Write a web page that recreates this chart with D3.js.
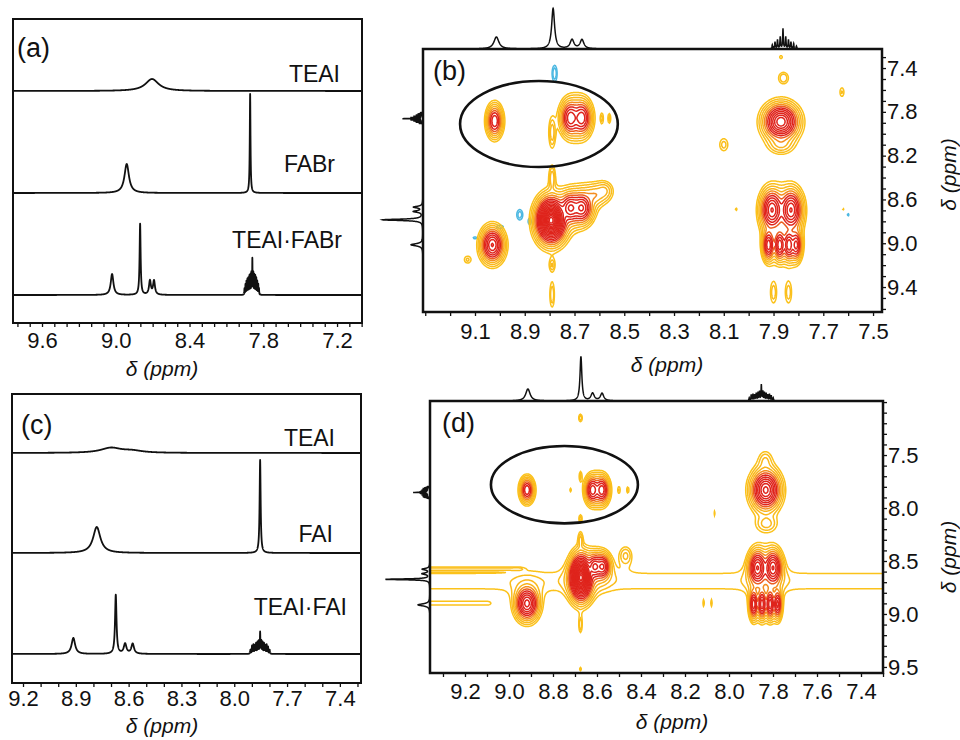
<!DOCTYPE html>
<html>
<head>
<meta charset="utf-8">
<script src="https://cdn.jsdelivr.net/npm/d3@7"></script>
<style>
  body { margin: 0; background: #fff; }
  svg { display: block; }
</style>
</head>
<body>
<svg id="fig" width="960" height="740"></svg>
<script>
const FONT = '"Liberation Sans", Arial, Helvetica, sans-serif';
const INK = '#111';

// 1D peaks: [ppm, intensity (a.u.), half width (ppm)]
const teaiA = [[8.705, 12, 0.065]];
const fabrA = [[8.911, 29, 0.022], [7.907, 99, 0.0035]];
const mixA = [[9.03, 21, 0.013], [8.802, 71, 0.005], [8.722, 14, 0.009], [8.689, 14, 0.009]];
// multiplet lines: [ppm, intensity]
const multA = [[7.953, 6], [7.945, 10], [7.937, 13], [7.929, 15], [7.921, 16], [7.913, 18], [7.905, 19], [7.897, 21],
  [7.889, 35], [7.881, 21], [7.873, 19], [7.865, 18], [7.857, 16], [7.849, 13], [7.841, 10], [7.835, 6]];
const ticksA = [9.6, 9.0, 8.4, 7.8, 7.2];

const teaiC = [[8.70, 5, 0.07], [8.58, 2, 0.07]];
const faiC = [[8.781, 26, 0.025], [7.853, 93, 0.0035]];
const mixC = [[8.914, 16, 0.012], [8.673, 59, 0.005], [8.62, 10, 0.009], [8.577, 10, 0.009]];
const multC = [[7.908, 4], [7.899, 8], [7.891, 9], [7.883, 8], [7.876, 10], [7.868, 11], [7.861, 12], [7.853, 21],
  [7.846, 12], [7.839, 11], [7.831, 10], [7.824, 8], [7.816, 9], [7.808, 7], [7.799, 4]];
const ticksC = [9.2, 8.9, 8.6, 8.3, 8.0, 7.7, 7.4];

// projection of the TEAI·FABr COSY
const projB = [[9.014, 21, 0.012], [8.786, 71, 0.007], [8.71, 16, 0.009], [8.67, 16, 0.009]];
const multB = [[7.905, 7], [7.894, 12], [7.884, 16], [7.873, 21], [7.862, 35], [7.851, 21], [7.840, 16],
  [7.830, 12], [7.819, 9], [7.808, 5]];

// 2D peaks: [F2 ppm, F1 ppm, amplitude, outer half-width F2, outer half-width F1] (ppm)
const crossB = [
  [9.021, 7.884, 25, 0.041, 0.19],
  [8.716, 7.856, 35, 0.053, 0.213],
  [8.671, 7.856, 35, 0.053, 0.213],
  [8.590, 7.860, 1.8, 0.0054, 0.043],
  [8.560, 7.860, 1.8, 0.0054, 0.043],
  [8.790, 7.990, 3, 0.013, 0.133],
  [8.790, 8.400, 3, 0.012, 0.104],
  [8.790, 9.200, 2.2, 0.010, 0.050],
  [8.790, 9.470, 2.2, 0.009, 0.113],
  [8.794, 8.790, 3000, 0.088, 0.30],
  [8.716, 8.678, 40, 0.060, 0.19],
  [8.671, 8.678, 40, 0.060, 0.19],
  [8.620, 8.560, 4, 0.05, 0.10],
  [8.580, 8.520, 3, 0.03, 0.074],
  [9.030, 9.016, 60, 0.063, 0.215],
  [9.130, 9.150, 1.6, 0.012, 0.029],
  [7.870, 7.890, 120, 0.096, 0.226],
  [7.860, 7.490, 2.2, 0.019, 0.05],
  [7.870, 7.300, 1.5, 0.0054, 0.0135],
  [7.870, 8.100, 3, 0.044, 0.074],
  [7.906, 8.696, 60, 0.063, 0.257],
  [7.830, 8.696, 60, 0.063, 0.257],
  [7.920, 9.016, 35, 0.032, 0.187],
  [7.875, 9.016, 35, 0.032, 0.187],
  [7.838, 9.016, 35, 0.032, 0.187],
  [7.809, 9.016, 30, 0.031, 0.183],
  [7.900, 9.450, 2, 0.012, 0.094],
  [7.840, 9.450, 2, 0.012, 0.094],
  [8.100, 8.100, 1.8, 0.016, 0.054],
  [7.625, 7.620, 1.6, 0.0078, 0.039],
  [8.050, 8.690, 1.3, 0.003, 0.011],
  [7.620, 8.690, 1.2, 0.0024, 0.0072]
];
const negB = [
  [8.780, 7.450, 2.2, 0.010, 0.075],
  [8.920, 8.740, 2.0, 0.012, 0.047],
  [8.880, 8.800, 1.6, 0.006, 0.029],
  [9.000, 8.850, 1.5, 0.0135, 0.0135],
  [9.100, 8.950, 1.3, 0.007, 0.009],
  [7.600, 8.740, 1.3, 0.003, 0.011]
];

const crossD = [
  [8.918, 7.830, 25, 0.041, 0.152],
  [8.620, 7.830, 35, 0.045, 0.173],
  [8.578, 7.830, 35, 0.045, 0.173],
  [8.500, 7.830, 1.6, 0.0049, 0.029],
  [8.460, 7.830, 1.6, 0.0049, 0.029],
  [8.720, 7.830, 1.4, 0.0033, 0.016],
  [8.675, 7.150, 2, 0.008, 0.035],
  [8.675, 7.700, 1.6, 0.005, 0.039],
  [8.675, 8.100, 1.8, 0.0065, 0.033],
  [8.675, 8.300, 2.5, 0.0095, 0.068],
  [8.675, 9.100, 2, 0.007, 0.071],
  [8.675, 9.520, 1.4, 0.004, 0.016],
  [8.673, 8.657, 3000, 0.076, 0.312],
  [8.610, 8.553, 40, 0.049, 0.163],
  [8.575, 8.553, 40, 0.049, 0.163],
  [8.470, 8.450, 2.5, 0.027, 0.081],
  [8.918, 8.900, 70, 0.073, 0.219],
  [7.833, 7.830, 100, 0.091, 0.258],
  [7.835, 7.550, 2.0, 0.024, 0.071],
  [7.830, 8.150, 2.5, 0.041, 0.068],
  [7.870, 8.565, 60, 0.057, 0.229],
  [7.800, 8.565, 60, 0.057, 0.229],
  [7.888, 8.908, 35, 0.027, 0.187],
  [7.850, 8.908, 35, 0.027, 0.187],
  [7.813, 8.908, 35, 0.027, 0.187],
  [7.779, 8.908, 30, 0.026, 0.183],
  [8.115, 8.900, 1.4, 0.0025, 0.025],
  [8.080, 8.900, 1.4, 0.0025, 0.025],
  [8.065, 8.050, 1.3, 0.0022, 0.022]
];
// t1 noise ridges: [F2 from, F2 to, F1, amplitude, sigma F1]
const ridgesD = [
  [9.40, 7.25, 8.690, 1.3, 0.10],
  [9.40, 8.96, 8.575, 1.25, 0.012],
  [9.40, 9.10, 8.900, 1.25, 0.02]
];

const ellipseB = {cx: 8.843, cy: 7.911, rx: 0.317, ry: 0.393};
const ellipseD = {cx: 8.748, cy: 7.78, rx: 0.334, ry: 0.365};

const STEP_PPM = 0.0005;
const LINE_W = 0.0016;
const SHAPE_P = 3;
const N_LEVELS = 20, BASE = 1, RATIO = 1.5;
const levelColor = d3.scaleLinear()
  .domain([0, 3, 4.5, 6])
  .range(['#fbc21b', '#f9b31d', '#f27b22', '#df241c'])
  .clamp(true);

const svg = d3.select('#fig');

function withLines(peaks, lines) {
  return peaks.concat(lines.map(([p, h]) => [p, h, LINE_W]));
}

function sample(peaks, dom) {
  const lo = d3.min(dom), hi = d3.max(dom);
  const n = Math.round((hi - lo) / STEP_PPM);
  return d3.range(n + 1).map(k => {
    const p = lo + k * STEP_PPM;
    let v = 0;
    for (const [c, h, w] of peaks) { const d = (p - c) / w; v += h / (1 + d * d); }
    return [p, v];
  });
}

function tickRange(dom) {
  const lo = d3.min(dom), hi = d3.max(dom);
  return d3.range(Math.ceil(lo * 10), Math.floor(hi * 10) + 1).map(v => v / 10);
}

function styleAxis(a, size) {
  a.select('.domain').remove();
  a.selectAll('line').attr('stroke', INK).attr('stroke-width', 1.3);
  a.selectAll('text').attr('font-family', FONT).attr('font-size', size).attr('fill', INK);
}

function isMajor(majors) {
  return d => majors.some(m => Math.abs(m - d) < 1e-6) ? d.toFixed(1) : '';
}

function axisTitle(g, x, y, rotate) {
  const t = g.append('text')
    .attr('font-family', FONT).attr('font-size', 21).attr('font-style', 'italic')
    .attr('fill', INK).attr('text-anchor', 'middle')
    .text('δ (ppm)');
  if (rotate) t.attr('transform', `translate(${x},${y}) rotate(-90)`).attr('dominant-baseline', 'central');
  else t.attr('x', x).attr('y', y);
}

function drawStack(cfg) {
  const {box} = cfg;
  const g = svg.append('g');
  const x = d3.scaleLinear().domain(cfg.domain).range([box.x0, box.x1]);
  const h = d3.scaleLinear().domain([0, 100]).range([0, 100]);

  cfg.traces.forEach(t => {
    const pts = sample(t.peaks, cfg.domain);
    g.append('path')
      .attr('d', d3.line().x(d => x(d[0])).y(d => t.base - h(d[1]))(pts))
      .attr('fill', 'none').attr('stroke', INK).attr('stroke-width', 1.8)
      .attr('stroke-linejoin', 'round');
    g.append('text')
      .attr('x', t.lx).attr('y', t.ly)
      .attr('text-anchor', 'end')
      .attr('font-family', FONT).attr('font-size', 23).attr('fill', INK)
      .text(t.label);
  });

  g.append('rect')
    .attr('x', box.x0).attr('y', box.y0)
    .attr('width', box.x1 - box.x0).attr('height', box.y1 - box.y0)
    .attr('fill', 'none').attr('stroke', INK).attr('stroke-width', 2);

  g.append('g')
    .attr('transform', `translate(0,${box.y1})`)
    .call(d3.axisBottom(x).tickValues(tickRange(cfg.domain)).tickSize(4).tickPadding(cfg.pad)
      .tickFormat(isMajor(cfg.majors)))
    .call(a => styleAxis(a, 22));

  g.append('text')
    .attr('x', cfg.tagX).attr('y', cfg.tagY)
    .attr('font-family', FONT).attr('font-size', 27).attr('fill', INK)
    .text(cfg.tag);

  axisTitle(g, cfg.titleX, cfg.titleY, false);
}

function draw2D(cfg) {
  const {box} = cfg;
  const g = svg.append('g');
  const x = d3.scaleLinear().domain(cfg.xDom).range([box.x0, box.x1]);
  const y = d3.scaleLinear().domain(cfg.yDom).range([box.y0, box.y1]);
  const kx = Math.abs(x(1) - x(0)), ky = Math.abs(y(1) - y(0));

  const pad = 4;
  const gx0 = Math.floor(box.x0) - pad, gy0 = Math.floor(box.y0) - pad;
  const nx = Math.ceil(box.x1 - box.x0) + 2 * pad, ny = Math.ceil(box.y1 - box.y0) + 2 * pad;
  const pos = new Float64Array(nx * ny), neg = new Float64Array(nx * ny);

  // peak shape a / (1 + r^2)^p, scaled so the lowest level sits at the outer half-widths
  function addPeak(arr, [cx, cy, a, rx, ry]) {
    const f = Math.sqrt(Math.max(Math.pow(a / BASE, 1 / SHAPE_P) - 1, 1e-3));
    const px = x(cx) - gx0, py = y(cy) - gy0;
    const psx = rx * kx / f, psy = ry * ky / f;
    const wx = rx * kx * 3 + 2, wy = ry * ky * 3 + 2;
    const i0 = Math.max(0, Math.floor(px - wx)), i1 = Math.min(nx - 1, Math.ceil(px + wx));
    const j0 = Math.max(0, Math.floor(py - wy)), j1 = Math.min(ny - 1, Math.ceil(py + wy));
    for (let j = j0; j <= j1; j++) {
      const dy = (j + 0.5 - py) / psy;
      for (let i = i0; i <= i1; i++) {
        const dx = (i + 0.5 - px) / psx;
        arr[j * nx + i] += a * Math.pow(1 + dx * dx + dy * dy, -SHAPE_P);
      }
    }
  }

  function addRidge(arr, [xa, xb, cy, a, sy]) {
    const pa = x(xa) - gx0, pb = x(xb) - gx0;
    const lo = Math.min(pa, pb), hi = Math.max(pa, pb);
    const py = y(cy) - gy0, psy = sy * ky, edge = 0.02 * kx;
    const j0 = Math.max(0, Math.floor(py - 5 * psy)), j1 = Math.min(ny - 1, Math.ceil(py + 5 * psy));
    for (let j = j0; j <= j1; j++) {
      const dy = (j + 0.5 - py) / psy;
      for (let i = 0; i < nx; i++) {
        const c = i + 0.5;
        const dx = c < lo ? (lo - c) / edge : c > hi ? (c - hi) / edge : 0;
        arr[j * nx + i] += a * Math.exp(-0.5 * (dx * dx + dy * dy));
      }
    }
  }

  cfg.cross.forEach(p => addPeak(pos, p));
  (cfg.ridges || []).forEach(r => addRidge(pos, r));
  cfg.neg.forEach(p => addPeak(neg, p));

  const levels = d3.range(N_LEVELS).map(k => BASE * Math.pow(RATIO, k));
  const toPx = d3.geoTransform({
    point(px, py) { this.stream.point(gx0 + px, gy0 + py); }
  });
  const path = d3.geoPath(toPx);

  const clipId = 'clip-' + cfg.tag.replace(/\W/g, '');
  g.append('clipPath').attr('id', clipId)
    .append('rect')
    .attr('x', box.x0).attr('y', box.y0)
    .attr('width', box.x1 - box.x0).attr('height', box.y1 - box.y0);

  const gc = g.append('g').attr('clip-path', `url(#${clipId})`);

  gc.selectAll('path.neg')
    .data(d3.contours().size([nx, ny]).thresholds([1, 1.5])(neg))
    .join('path')
    .attr('class', 'neg')
    .attr('d', path)
    .attr('fill', 'none').attr('stroke', '#4cb8e2').attr('stroke-width', 1.5);

  gc.selectAll('path.pos')
    .data(d3.contours().size([nx, ny]).thresholds(levels)(pos))
    .join('path')
    .attr('class', 'pos')
    .attr('d', path)
    .attr('fill', 'none')
    .attr('stroke', (d, i) => levelColor(i))
    .attr('stroke-width', 1.5);

  const e = cfg.ellipse;
  g.append('ellipse')
    .attr('cx', x(e.cx)).attr('cy', y(e.cy))
    .attr('rx', e.rx * kx).attr('ry', e.ry * ky)
    .attr('fill', 'none').attr('stroke', INK).attr('stroke-width', 2.6);

  // projections
  const k = d3.scaleLinear().domain([0, 100]).range([0, cfg.projK * 100]);
  g.append('path')
    .attr('d', d3.line().x(d => x(d[0])).y(d => box.y0 - k(d[1]))(sample(cfg.proj, cfg.xDom)))
    .attr('fill', 'none').attr('stroke', INK).attr('stroke-width', 1.5);
  g.append('path')
    .attr('d', d3.line().x(d => box.x0 - k(d[1])).y(d => y(d[0]))(sample(cfg.proj, cfg.yDom)))
    .attr('fill', 'none').attr('stroke', INK).attr('stroke-width', 1.5);

  g.append('rect')
    .attr('x', box.x0).attr('y', box.y0)
    .attr('width', box.x1 - box.x0).attr('height', box.y1 - box.y0)
    .attr('fill', 'none').attr('stroke', INK).attr('stroke-width', 2.5);

  g.append('g')
    .attr('transform', `translate(0,${box.y1})`)
    .call(d3.axisBottom(x).tickValues(tickRange(cfg.xDom)).tickSize(4).tickPadding(cfg.padX)
      .tickFormat(isMajor(cfg.xMajor)))
    .call(a => styleAxis(a, 22));

  g.append('g')
    .attr('transform', `translate(${box.x1},0)`)
    .call(d3.axisRight(y).tickValues(tickRange(cfg.yDom)).tickSize(4).tickPadding(1)
      .tickFormat(isMajor(cfg.yMajor)))
    .call(a => styleAxis(a, 22));

  g.append('text')
    .attr('x', cfg.tagX).attr('y', cfg.tagY)
    .attr('font-family', FONT).attr('font-size', 27).attr('fill', INK)
    .text(cfg.tag);

  axisTitle(g, cfg.titleX, cfg.titleY, false);
  axisTitle(g, 948, (box.y0 + box.y1) / 2 + cfg.rightOff, true);
}

drawStack({
  box: {x0: 13, y0: 19, x1: 362, y1: 323},
  domain: [9.836, 6.997],
  traces: [
    {peaks: teaiA, base: 91, label: 'TEAI', lx: 340, ly: 82},
    {peaks: fabrA, base: 193, label: 'FABr', lx: 335, ly: 172},
    {peaks: withLines(mixA, multA), base: 295, label: 'TEAI·FABr', lx: 342, ly: 248}
  ],
  majors: ticksA, pad: 5,
  tag: '(a)', tagX: 17, tagY: 57,
  titleX: 162, titleY: 376
});

drawStack({
  box: {x0: 12, y0: 394, x1: 361, y1: 683},
  domain: [9.2625, 7.28],
  traces: [
    {peaks: teaiC, base: 453, label: 'TEAI', lx: 335, ly: 446},
    {peaks: faiC, base: 553, label: 'FAI', lx: 333, ly: 542},
    {peaks: withLines(mixC, multC), base: 654, label: 'TEAI·FAI', lx: 347, ly: 615}
  ],
  majors: ticksC, pad: 3,
  tag: '(c)', tagX: 21, tagY: 434,
  titleX: 162, titleY: 733
});

draw2D({
  box: {x0: 423, y0: 49, x1: 882, y1: 312},
  xDom: [9.309, 7.464], yDom: [7.226, 9.628],
  cross: crossB, neg: negB, ridges: [],
  proj: withLines(projB, multB), projK: 0.57,
  ellipse: ellipseB,
  xMajor: [9.1, 8.9, 8.7, 8.5, 8.3, 8.1, 7.9, 7.7, 7.5],
  yMajor: [7.4, 7.8, 8.2, 8.6, 9.0, 9.4],
  padX: 7,
  tag: '(b)', tagX: 433, tagY: 80,
  titleX: 667, titleY: 372, rightOff: -6
});

draw2D({
  box: {x0: 430, y0: 401, x1: 883, y1: 673},
  xDom: [9.359, 7.30], yDom: [6.99, 9.557],
  cross: crossD, neg: [], ridges: ridgesD,
  proj: withLines(mixC, multC), projK: 0.75,
  ellipse: ellipseD,
  xMajor: [9.2, 9.0, 8.8, 8.6, 8.4, 8.2, 8.0, 7.8, 7.6, 7.4],
  yMajor: [7.5, 8.0, 8.5, 9.0, 9.5],
  padX: 6,
  tag: '(d)', tagX: 442, tagY: 432,
  titleX: 672, titleY: 729, rightOff: 20
});
</script>
</body>
</html>
